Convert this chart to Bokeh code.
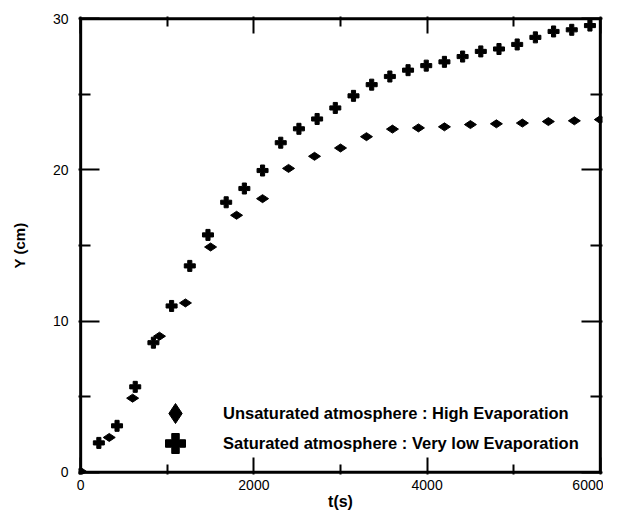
import math
from bokeh.plotting import figure
from bokeh.models import Range1d, LinearAxis, Legend, LegendItem, FixedTicker
from bokeh.embed import file_html
from bokeh.resources import INLINE

# Unsaturated atmosphere (diamonds)
t_unsat = [0, 330, 600, 910, 1210, 1500, 1800, 2100, 2400, 2700, 3000, 3300,
           3600, 3900, 4200, 4500, 4800, 5100, 5400, 5700, 6000]
y_unsat = [0.05, 2.3, 4.9, 9.0, 11.2, 14.9, 17.0, 18.1, 20.1, 20.9, 21.45, 22.2,
           22.7, 22.78, 22.85, 23.0, 23.05, 23.1, 23.2, 23.25, 23.33]

# Saturated atmosphere (plus)
t_sat = [210, 420, 630, 840, 1050, 1260, 1470, 1680, 1890, 2100, 2310, 2520,
         2730, 2940, 3150, 3360, 3570, 3780, 3990, 4200, 4410, 4620, 4830, 5040,
         5250, 5460, 5670, 5880]
y_sat = [1.94, 3.07, 5.65, 8.57, 11.0, 13.65, 15.7, 17.86, 18.77, 19.96, 21.8, 22.72,
         23.37, 24.1, 24.9, 25.64, 26.18, 26.6, 26.9, 27.15, 27.5, 27.84, 28.0, 28.3,
         28.77, 29.16, 29.27, 29.55]

x_ticks = [0, 2000, 4000, 6000]
x_minor = [1000, 3000, 5000]
y_ticks = [0, 10, 20, 30]
y_minor = [5, 15, 25]

label_unsat = "Unsaturated atmosphere : High Evaporation"
label_sat = "Saturated atmosphere : Very low Evaporation"
x_label = "t(s)"
y_label = "Y (cm)"

FONT = "Liberation Sans"
X_PAD = 25     # small range padding so the frame box sits just inside the plot area
Y_PAD = 0.15

x0, x1 = x_ticks[0], x_ticks[-1]
y0, y1 = y_ticks[0], y_ticks[-1]

p = figure(width=603, height=512, x_range=Range1d(x0 - X_PAD, x1 + X_PAD),
           y_range=Range1d(y0 - Y_PAD, y1 + Y_PAD),
           output_backend="svg", toolbar_location=None,
           x_axis_label=x_label, y_axis_label=y_label,
           min_border_left=78, min_border_right=1, min_border_top=16, min_border_bottom=36)
p.grid.visible = False
p.outline_line_color = None
p.background_fill_color = "white"
p.border_fill_color = "white"

# frame box drawn as a line glyph through the corners of the axis ranges
p.line(x=[x0, x1, x1, x0, x0], y=[y0, y0, y1, y1, y0],
       line_color="black", line_width=3, line_join="miter")


def style_axis(ax, major_in, minor_in, show_labels):
    ax.axis_line_color = None
    ax.major_tick_in = major_in
    ax.major_tick_out = 0
    ax.minor_tick_in = minor_in
    ax.minor_tick_out = 0
    ax.major_tick_line_width = 2
    ax.minor_tick_line_width = 2
    ax.major_tick_line_color = "black"
    ax.minor_tick_line_color = "black"
    if show_labels:
        ax.major_label_text_font = FONT
        ax.major_label_text_font_size = "14px"
        ax.major_label_text_color = "black"
        ax.axis_label_text_font = FONT
        ax.axis_label_text_font_style = "bold"
        ax.axis_label_text_color = "black"
    else:
        ax.major_label_text_color = None
        ax.major_label_text_font_size = "1px"
        ax.major_label_standoff = 0


xb = p.xaxis[0]
xb.ticker = FixedTicker(ticks=x_ticks, minor_ticks=x_minor)
style_axis(xb, 17, 10, True)
xb.axis_label_text_font_size = "16px"
xb.major_label_standoff = 5
xb.axis_label_standoff = 0

yl = p.yaxis[0]
yl.ticker = FixedTicker(ticks=y_ticks, minor_ticks=y_minor)
style_axis(yl, 21, 12, True)
yl.axis_label_text_font_size = "15px"
yl.major_label_standoff = 10
yl.axis_label_standoff = 22

xt = LinearAxis(ticker=FixedTicker(ticks=x_ticks, minor_ticks=x_minor))
style_axis(xt, 17, 10, False)
p.add_layout(xt, "above")

yr = LinearAxis(ticker=FixedTicker(ticks=y_ticks, minor_ticks=y_minor))
style_axis(yr, 21, 12, False)
p.add_layout(yr, "right")

r_unsat = p.scatter(t_unsat, y_unsat, marker="diamond", size=12, angle=math.pi / 2,
                    color="black")
r_sat = p.scatter(t_sat, y_sat, marker="plus", size=11, color="black")


def make_legend(label, renderer, loc):
    leg = Legend(items=[LegendItem(label=label, renderers=[renderer])], location=loc,
                 glyph_width=50, glyph_height=50, label_standoff=23, padding=0, margin=0,
                 spacing=0, border_line_color=None, background_fill_alpha=0,
                 label_text_font=FONT, label_text_font_size="16.5px",
                 label_text_font_style="bold", label_text_color="black")
    return leg


p.add_layout(make_legend(label_unsat, r_unsat, (72, 36)))
p.add_layout(make_legend(label_sat, r_sat, (72, 6)))

open("out.html", "w").write(file_html(p, INLINE))
